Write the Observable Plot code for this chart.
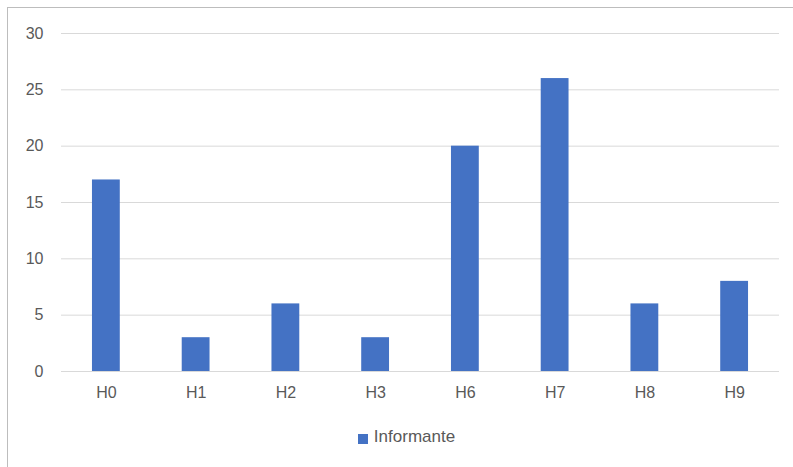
<!DOCTYPE html>
<html>
<head>
<meta charset="utf-8">
<script src="https://cdn.jsdelivr.net/npm/d3@7"></script>
<script src="https://cdn.jsdelivr.net/npm/@observablehq/plot@0.6"></script>
<style>
  html, body { margin: 0; padding: 0; background: #fff; }
  #wrap { position: relative; width: 793px; height: 467px; overflow: hidden; font-family: "Liberation Sans", Arial, sans-serif; }
  #frame { position: absolute; left: 7px; top: 7px; width: 800px; height: 480px; border-top: 1.5px solid #bdbdbd; border-left: 1.5px solid #bdbdbd; pointer-events: none; }
  #chart svg { display: block; }
  #legend { display: flex; justify-content: center; align-items: center; height: 30px; margin-top: 2px; padding-left: 20px; font-size: 17px; color: #595959; }
  #legend .sw { width: 10px; height: 10px; background: #4472C4; margin-right: 6px; margin-top: 3px; }
</style>
</head>
<body>
<div id="wrap">
  <div id="chart"></div>
  <div id="legend"><span class="sw"></span><span>Informante</span></div>
  <div id="frame"></div>
</div>
<script>
const categories = ["H0", "H1", "H2", "H3", "H6", "H7", "H8", "H9"];
const values = [17, 3, 6, 3, 20, 26, 6, 8];
const yTicks = [0, 5, 10, 15, 20, 25, 30];
const seriesName = "Informante";

const data = categories.map((c, i) => ({ cat: c, value: values[i], series: seriesName }));

const plot = Plot.plot({
  width: 793,
  height: 420,
  marginTop: 33,
  marginBottom: 49,
  marginLeft: 61,
  marginRight: 14,
  style: { fontFamily: '"Liberation Sans", Arial, sans-serif', fontSize: "16px", color: "#595959", background: "#fff" },
  x: { domain: categories, paddingInner: 0.69, paddingOuter: 0.345, align: 0.5, round: false, label: null },
  y: { domain: [0, 30], ticks: yTicks, label: null },
  marks: [
    Plot.ruleY(yTicks, { stroke: "#d9d9d9", strokeWidth: 1 }),
    Plot.barY(data, { x: "cat", y: "value", fill: "#4472C4" }),
    Plot.axisY({ ticks: yTicks, tickSize: 0, tickPadding: 18, label: null, fontSize: 16 }),
    Plot.axisX({ tickSize: 0, tickPadding: 15, label: null, fontSize: 16 })
  ]
});
document.getElementById("chart").appendChild(plot);
</script>
</body>
</html>
